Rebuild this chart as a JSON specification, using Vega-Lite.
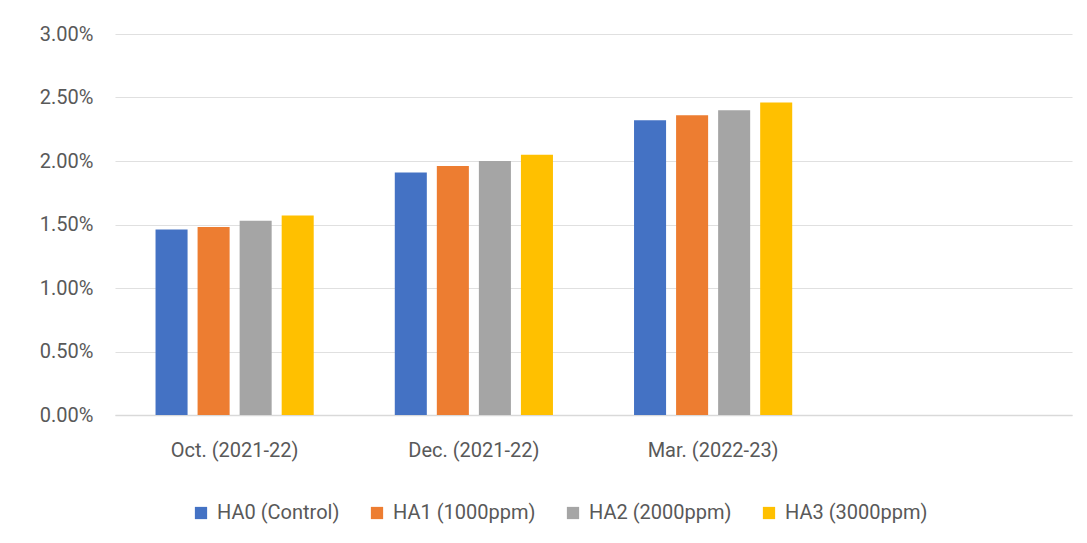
{
  "$schema": "https://vega.github.io/schema/vega-lite/v6.json",
  "width": 957,
  "height": 381,
  "autosize": {"type": "none"},
  "padding": {"left": 115, "top": 34, "right": 15, "bottom": 128},
  "background": "white",
  "data": {
    "values": [
      {"period": "Oct. (2021-22)", "treatment": "HA0 (Control)", "value": 0.0146},
      {"period": "Oct. (2021-22)", "treatment": "HA1 (1000ppm)", "value": 0.0148},
      {"period": "Oct. (2021-22)", "treatment": "HA2 (2000ppm)", "value": 0.0153},
      {"period": "Oct. (2021-22)", "treatment": "HA3 (3000ppm)", "value": 0.0157},
      {"period": "Dec. (2021-22)", "treatment": "HA0 (Control)", "value": 0.0191},
      {"period": "Dec. (2021-22)", "treatment": "HA1 (1000ppm)", "value": 0.0196},
      {"period": "Dec. (2021-22)", "treatment": "HA2 (2000ppm)", "value": 0.0200},
      {"period": "Dec. (2021-22)", "treatment": "HA3 (3000ppm)", "value": 0.0205},
      {"period": "Mar. (2022-23)", "treatment": "HA0 (Control)", "value": 0.0232},
      {"period": "Mar. (2022-23)", "treatment": "HA1 (1000ppm)", "value": 0.0236},
      {"period": "Mar. (2022-23)", "treatment": "HA2 (2000ppm)", "value": 0.0240},
      {"period": "Mar. (2022-23)", "treatment": "HA3 (3000ppm)", "value": 0.0246}
    ]
  },
  "mark": {"type": "bar"},
  "encoding": {
    "x": {
      "field": "period",
      "type": "nominal",
      "sort": null,
      "scale": {"domain": ["Oct. (2021-22)", "Dec. (2021-22)", "Mar. (2022-23)", "_"], "paddingInner": 0, "paddingOuter": 0},
      "axis": {
        "title": null,
        "labelAngle": 0,
        "labelExpr": "datum.value == '_' ? '' : datum.value",
        "ticks": false,
        "domainColor": "#d9d9d9",
        "domainWidth": 1.5,
        "labelPadding": 25,
        "labelFont": "Roboto",
        "labelFontSize": 20,
        "labelColor": "#595959"
      }
    },
    "xOffset": {
      "field": "treatment",
      "type": "nominal",
      "scale": {"paddingInner": 0.238, "paddingOuter": 0.964}
    },
    "y": {
      "field": "value",
      "type": "quantitative",
      "scale": {"domain": [0, 0.03]},
      "axis": {
        "title": null,
        "format": ".2%",
        "values": [0, 0.005, 0.01, 0.015, 0.02, 0.025, 0.03],
        "domain": false,
        "ticks": false,
        "gridColor": "#e0e0e0",
        "gridWidth": 1.2,
        "labelPadding": 22,
        "labelFont": "Roboto",
        "labelFontSize": 20,
        "labelColor": "#595959"
      }
    },
    "color": {
      "field": "treatment",
      "type": "nominal",
      "scale": {
        "domain": ["HA0 (Control)", "HA1 (1000ppm)", "HA2 (2000ppm)", "HA3 (3000ppm)"],
        "range": ["#4472C4", "#ED7D31", "#A5A5A5", "#FFC000"]
      },
      "legend": {
        "title": null,
        "orient": "none",
        "direction": "horizontal",
        "legendX": 76,
        "legendY": 469,
        "symbolType": "square",
        "symbolSize": 150,
        "symbolStrokeWidth": 0,
        "symbolOpacity": 1,
        "labelFont": "Roboto",
        "labelFontSize": 20,
        "labelColor": "#595959",
        "labelOffset": 6,
        "labelLimit": 300,
        "columnPadding": 27
      }
    }
  },
  "config": {"view": {"stroke": null}}
}
